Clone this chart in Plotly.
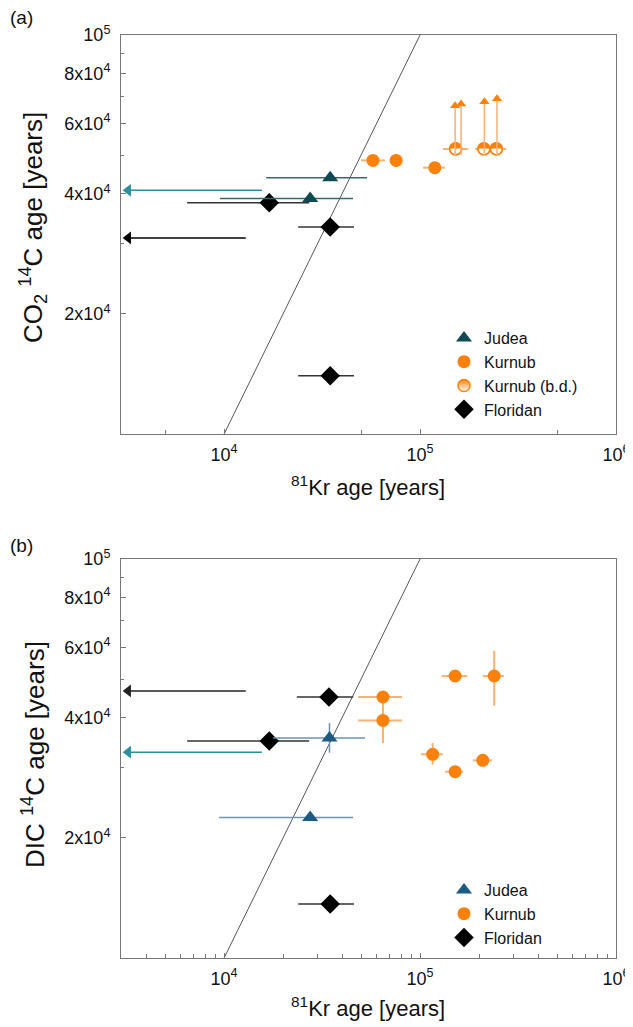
import plotly.graph_objects as go

# page body has an 8px margin: offset every position by it
OFF = 8
W, H = 633 - OFF, 1027 - OFF

# ---------------- data: panel (a) CO2 14C age ----------------
a_judea_x = [34800, 27500]
a_judea_y = [43900, 38900]
a_judea_xlo = [16400, 9540]
a_judea_xhi = [53700, 45500]

a_kurnub_x = [57500, 75500, 119000]
a_kurnub_y = [48500, 48500, 46500]
a_kurnub_xlo = [50000, 75500, 103500]
a_kurnub_xhi = [66200, 75500, 134000]

a_bd_x = [152000, 212000, 245000]
a_bd_y = [51800, 51800, 51800]
a_bd_xlo = [131000, 191000, 225000]
a_bd_xhi = [176000, 232000, 275000]
a_bd_arrow_x = [151000, 162000, 213000, 247000]
a_bd_arrow_y0 = [50000, 50000, 50000, 50000]
a_bd_arrow_y1 = [66500, 67200, 68000, 69200]

a_flor_x = [17000, 34800, 34800]
a_flor_y = [38000, 33000, 14000]
a_flor_xlo = [6480, 23900, 23900]
a_flor_xhi = [27200, 46000, 46000]

a_lim_judea_y = [40800]
a_lim_judea_x = [15600]
a_lim_flor_y = [31000]
a_lim_flor_x = [12900]

# ---------------- data: panel (b) DIC 14C age ----------------
b_judea_x = [34500, 27500]
b_judea_y = [35600, 22500]
b_judea_xlo = [17800, 9430]
b_judea_xhi = [52400, 45500]
b_judea_ylo = [32700, 22500]
b_judea_yhi = [38800, 22500]

b_kurnub_x = [64700, 64700, 151000, 239000, 116000, 151000, 209000]
b_kurnub_y = [45100, 39400, 50900, 50900, 32400, 29300, 31300]
b_kurnub_xlo = [48300, 48300, 129000, 209000, 101000, 134000, 186000]
b_kurnub_xhi = [80900, 80900, 174000, 268000, 131000, 166000, 233000]
b_kurnub_ylo = [45100, 34600, 50900, 42900, 30500, 29300, 31300]
b_kurnub_yhi = [45100, 45100, 50900, 58800, 34600, 29300, 31300]

b_flor_x = [34300, 17000, 34800]
b_flor_y = [45100, 35000, 13650]
b_flor_xlo = [23500, 6480, 23900]
b_flor_xhi = [45600, 27200, 46000]

b_lim_flor_y = [46700]
b_lim_flor_x = [12900]
b_lim_judea_y = [32800]
b_lim_judea_x = [15600]

# axis settings
x_left_edge = 3240          # arrow tip of the "<" limits
one_to_one = [1e4, 1e5]
y_tickvals = [2e4, 4e4, 6e4, 8e4, 1e5]
y_ticktext = ["2x10<sup>4</sup>", "4x10<sup>4</sup>", "6x10<sup>4</sup>",
              "8x10<sup>4</sup>", "10<sup>5</sup>"]
y_minor = [1e4 * k for k in range(1, 11)]
x_tickvals = [1e4, 1e5, 1e6]
x_ticktext = ["10<sup>4</sup>", "10<sup>5</sup>", "10<sup>6</sup>"]
xa_minor = [5e3, 5e4, 5e5]
xb_minor = [m * 10 ** e for e in (3, 4, 5) for m in range(2, 10)]

# colours
C_JUDEA_A = "#0f4a54"
C_JUDEA_B = "#1c5a84"
C_JUDEA_ERR_A = "#3b6870"
C_JUDEA_ERR_B = "#6c93b2"
C_TEAL = "#2b8f9c"
C_KURNUB = "#fd8008"
C_KURNUB_ERR = "#f7b274"
C_BLACK = "#000000"
C_FLOR_ERR = "#333333"
FONT = "Liberation Sans, Arial, sans-serif"


def diff(a, b):
    return [x - y for x, y in zip(a, b)]


fig = go.Figure()


def add_points(x, y, xlo, xhi, color, ecolor, symbol, size, name, xa, ya,
               legend, ylo=None, yhi=None, ethick=1.5, showlegend=True):
    kw = {}
    if ylo is not None:
        kw["error_y"] = dict(type="data", symmetric=False,
                             array=diff(yhi, y), arrayminus=diff(y, ylo),
                             color=ecolor, thickness=ethick, width=0)
    fig.add_trace(go.Scatter(
        x=x, y=y, mode="markers", name=name, xaxis=xa, yaxis=ya,
        legend=legend, showlegend=showlegend,
        marker=dict(symbol=symbol, size=size, color=color,
                    line=dict(width=0)),
        error_x=dict(type="data", symmetric=False,
                     array=diff(xhi, x), arrayminus=diff(x, xlo),
                     color=ecolor, thickness=ethick, width=0),
        **kw))


def add_left_arrow(xs, ys, color, xa, ya):
    lx, ly = [], []
    for x0, y0 in zip(xs, ys):
        lx += [x0, x_left_edge, None]
        ly += [y0, y0, None]
    fig.add_trace(go.Scatter(x=lx, y=ly, mode="lines", xaxis=xa, yaxis=ya,
                             line=dict(color=color, width=1.5),
                             showlegend=False, hoverinfo="skip"))
    fig.add_trace(go.Scatter(x=[x_left_edge] * len(ys), y=ys, mode="markers",
                             xaxis=xa, yaxis=ya, showlegend=False,
                             marker=dict(symbol="triangle-left", size=11,
                                         color=color)))


# ---------- panel (a) ----------
fig.add_trace(go.Scatter(x=one_to_one, y=one_to_one, mode="lines",
                         line=dict(color="#555555", width=1),
                         xaxis="x", yaxis="y", showlegend=False,
                         hoverinfo="skip"))
add_left_arrow(a_lim_judea_x, a_lim_judea_y, C_TEAL, "x", "y")
add_left_arrow(a_lim_flor_x, a_lim_flor_y, C_BLACK, "x", "y")

add_points(a_flor_x, a_flor_y, a_flor_xlo, a_flor_xhi, C_BLACK, C_FLOR_ERR,
           "diamond", 15, "Floridan", "x", "y", "legend")
add_points(a_judea_x, a_judea_y, a_judea_xlo, a_judea_xhi, C_JUDEA_A,
           C_JUDEA_ERR_A, "triangle-up", 14, "Judea", "x", "y", "legend")
add_points(a_kurnub_x, a_kurnub_y, a_kurnub_xlo, a_kurnub_xhi, C_KURNUB,
           C_KURNUB_ERR, "circle", 13, "Kurnub", "x", "y", "legend",
           ethick=2)
# b.d. points: white circle with orange outline + upper-half-filled glyph
fig.add_trace(go.Scatter(
    x=a_bd_x, y=a_bd_y, mode="markers", name="Kurnub (b.d.)",
    xaxis="x", yaxis="y", showlegend=False,
    marker=dict(symbol="circle", size=12, color="white",
                line=dict(color=C_KURNUB, width=1.5)),
    error_x=dict(type="data", symmetric=False,
                 array=diff(a_bd_xhi, a_bd_x), arrayminus=diff(a_bd_x, a_bd_xlo),
                 color=C_KURNUB_ERR, thickness=2, width=0)))
fig.add_trace(go.Scatter(
    x=a_bd_x, y=a_bd_y, mode="text", text=["\u25d3"] * len(a_bd_x),
    textposition="middle center",
    textfont=dict(color=C_KURNUB, size=17, family="DejaVu Sans"),
    xaxis="x", yaxis="y", showlegend=False, hoverinfo="skip"))

# b.d. upward arrows (lower limits), drawn over the circles
ax_l, ay_l = [], []
for x0, y0, y1 in zip(a_bd_arrow_x, a_bd_arrow_y0, a_bd_arrow_y1):
    ax_l += [x0, x0, None]
    ay_l += [y0, y1, None]
fig.add_trace(go.Scatter(x=ax_l, y=ay_l, mode="lines", xaxis="x", yaxis="y",
                         line=dict(color=C_KURNUB_ERR, width=1.5),
                         showlegend=False, hoverinfo="skip"))
fig.add_trace(go.Scatter(x=a_bd_arrow_x, y=a_bd_arrow_y1, mode="markers",
                         xaxis="x", yaxis="y", showlegend=False,
                         marker=dict(symbol="triangle-up", size=9,
                                     color=C_KURNUB)))

# legend entry for b.d. (half-filled look via vertical gradient)
fig.add_trace(go.Scatter(
    x=[None], y=[None], mode="markers", name="Kurnub (b.d.)",
    xaxis="x", yaxis="y", legend="legend",
    marker=dict(symbol="circle", size=12, color=C_KURNUB,
                gradient=dict(type="vertical", color="white"),
                line=dict(color=C_KURNUB, width=1.5))))

# ---------- panel (b) ----------
fig.add_trace(go.Scatter(x=one_to_one, y=one_to_one, mode="lines",
                         line=dict(color="#555555", width=1),
                         xaxis="x2", yaxis="y2", showlegend=False,
                         hoverinfo="skip"))
add_left_arrow(b_lim_flor_x, b_lim_flor_y, "#222222", "x2", "y2")
add_left_arrow(b_lim_judea_x, b_lim_judea_y, C_TEAL, "x2", "y2")
add_points(b_flor_x, b_flor_y, b_flor_xlo, b_flor_xhi, C_BLACK, C_FLOR_ERR,
           "diamond", 15, "Floridan", "x2", "y2", "legend2")
add_points(b_judea_x, b_judea_y, b_judea_xlo, b_judea_xhi, C_JUDEA_B,
           C_JUDEA_ERR_B, "triangle-up", 14, "Judea", "x2", "y2", "legend2",
           ylo=b_judea_ylo, yhi=b_judea_yhi)
add_points(b_kurnub_x, b_kurnub_y, b_kurnub_xlo, b_kurnub_xhi, C_KURNUB,
           C_KURNUB_ERR, "circle", 13, "Kurnub", "x2", "y2", "legend2",
           ylo=b_kurnub_ylo, yhi=b_kurnub_yhi, ethick=2)

# legend order
order = {"Judea": 1, "Kurnub": 2, "Kurnub (b.d.)": 3, "Floridan": 4}
for tr in fig.data:
    if tr.name in order:
        tr.legendrank = order[tr.name]


# ---------- layout (positions given in window pixels) ----------
def px_x(p):
    return (p - OFF) / W


def px_y(p):
    return 1 - (p - OFF) / H


xdom = [px_x(121), px_x(616)]
ydom_a = [px_y(434), px_y(35)]
ydom_b = [px_y(958), px_y(559)]

axis_common = dict(showline=True, linecolor="#777777", linewidth=1,
                   mirror=True, showgrid=False, zeroline=False,
                   ticks="inside", ticklen=5, tickcolor="#777777",
                   tickfont=dict(family=FONT, size=18, color="#111111"),
                   ticklabeloverflow="allow", automargin=False)

xa_common = dict(axis_common, type="log", range=[3.474, 6],
                 tickmode="array", tickvals=x_tickvals, ticktext=x_ticktext,
                 domain=xdom, ticklabelstandoff=4)
ya_common = dict(axis_common, type="log", range=[4, 5],
                 tickmode="array", tickvals=y_tickvals, ticktext=y_ticktext,
                 ticklabelstandoff=6)

legend_common = dict(xanchor="left", yanchor="top", bgcolor="rgba(0,0,0,0)",
                     itemwidth=30, tracegroupgap=0,
                     font=dict(family=FONT, size=16, color="#111111"))

fig.update_layout(
    width=W, height=H,
    margin=dict(l=0, r=0, t=0, b=0),
    paper_bgcolor="white", plot_bgcolor="white",
    font=dict(family=FONT, color="#111111"),
    xaxis=dict(xa_common, anchor="y",
               minor=dict(tickvals=xa_minor, ticks="inside", ticklen=4,
                          tickcolor="#777777")),
    yaxis=dict(ya_common, anchor="x", domain=ydom_a,
               minor=dict(tickvals=y_minor, ticks="inside", ticklen=3,
                          tickcolor="#777777")),
    xaxis2=dict(xa_common, anchor="y2",
                minor=dict(tickvals=xb_minor, ticks="inside", ticklen=4,
                           tickcolor="#777777")),
    yaxis2=dict(ya_common, anchor="x2", domain=ydom_b,
                minor=dict(tickvals=y_minor, ticks="inside", ticklen=3,
                           tickcolor="#777777")),
    legend=dict(legend_common, x=px_x(444), y=px_y(321)),
    legend2=dict(legend_common, x=px_x(444), y=px_y(873)),
    showlegend=True,
)

ann_font_y = dict(family=FONT, size=26, color="#111111")
ann_font_x = dict(family=FONT, size=22, color="#111111")
annotations = [
    dict(text="(a)", x=px_x(8), y=px_y(18), xanchor="left", yanchor="middle",
         showarrow=False, font=dict(family=FONT, size=19, color="#111111")),
    dict(text="(b)", x=px_x(8), y=px_y(545), xanchor="left", yanchor="middle",
         showarrow=False, font=dict(family=FONT, size=19, color="#111111")),
    dict(text="CO<sub>2</sub> <sup>14</sup>C age [years]", x=px_x(33),
         y=px_y(228), textangle=-90, xanchor="center", yanchor="middle",
         showarrow=False, font=ann_font_y),
    dict(text="DIC <sup>14</sup>C age [years]", x=px_x(33), y=px_y(755),
         textangle=-90, xanchor="center", yanchor="middle",
         showarrow=False, font=ann_font_y),
    dict(text="<sup>81</sup>Kr age [years]", x=px_x(368), y=px_y(486),
         xanchor="center", yanchor="middle", showarrow=False, font=ann_font_x),
    dict(text="<sup>81</sup>Kr age [years]", x=px_x(368), y=px_y(1007),
         xanchor="center", yanchor="middle", showarrow=False, font=ann_font_x),
]
for a in annotations:
    a["xref"] = "paper"
    a["yref"] = "paper"
fig.update_layout(annotations=annotations)

fig.write_html("out.html")
